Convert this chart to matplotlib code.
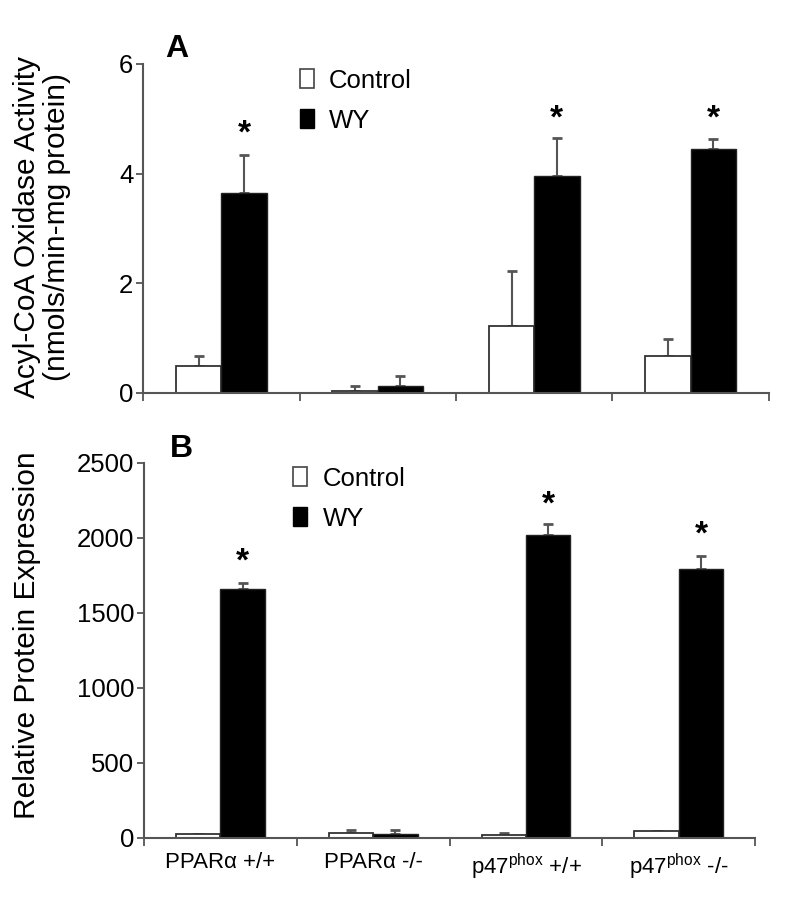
import matplotlib
matplotlib.use("Agg")
import matplotlib.pyplot as plt
from matplotlib.patches import Patch
import numpy as np

plt.rcParams['font.family'] = ['Liberation Sans', 'DejaVu Sans']
plt.rcParams['mathtext.fontset'] = 'custom'
plt.rcParams['mathtext.rm'] = 'Liberation Sans'
plt.rcParams['mathtext.it'] = 'Liberation Sans'

groups = ['PPAR\u03b1 +/+', 'PPAR\u03b1 -/-',
          r'p47$^{\mathrm{phox}}$ +/+', r'p47$^{\mathrm{phox}}$ -/-']

# panel A: acyl-CoA oxidase activity
acox_ctrl = [0.49, 0.04, 1.22, 0.68]
acox_ctrl_err = [0.18, 0.09, 1.01, 0.31]
acox_wy = [3.65, 0.13, 3.96, 4.45]
acox_wy_err = [0.69, 0.18, 0.69, 0.18]
acox_star = [4.72, None, 5.0, 5.0]

# panel B: relative protein expression
prot_ctrl = [25, 30, 20, 45]
prot_ctrl_err = [0, 20, 15, 0]
prot_wy = [1660, 25, 2020, 1793]
prot_wy_err = [40, 25, 70, 87]
prot_star = [1840, None, 2220, 2020]

edge = '#555555'
w = 0.29
x = np.arange(len(groups)) + 0.5

fig = plt.figure(figsize=(8, 8.99), dpi=100)
axA = fig.add_axes([0.179, 0.563, 0.782, 0.366])
axB = fig.add_axes([0.180, 0.068, 0.764, 0.417])


def draw(ax, ctrl, cerr, wy, werr, stars, ymax, yticks, leg_xy):
    ax.bar(x - w / 2, ctrl, w, color='white', edgecolor='#333333', linewidth=1.3, zorder=2)
    ax.bar(x + w / 2, wy, w, color='black', edgecolor='#222222', linewidth=1.0, zorder=2)
    ax.errorbar(x - w / 2, ctrl, yerr=[np.zeros(4), cerr], fmt='none', ecolor=edge,
                elinewidth=1.5, capsize=3.5, capthick=2, zorder=1)
    ax.errorbar(x + w / 2, wy, yerr=[np.zeros(4), werr], fmt='none', ecolor=edge,
                elinewidth=1.5, capsize=3.5, capthick=2, zorder=1)
    for xi, s in zip(x, stars):
        if s is not None:
            ax.text(xi + w / 2, s, '*', ha='center', va='center', fontsize=24,
                    fontweight='bold')
    ax.set_xlim(0, 4)
    ax.set_ylim(0, ymax)
    ax.set_yticks(yticks)
    ax.set_xticks(np.arange(5))
    ax.set_xticklabels([])
    ax.set_xticks(x, minor=True)
    ax.tick_params(axis='x', which='major', direction='out', length=6, width=1.3,
                   color=edge)
    ax.tick_params(axis='x', which='minor', length=0, labelsize=16, pad=10)
    ax.tick_params(axis='y', direction='out', length=5, width=1.3, color=edge,
                   labelsize=18.5, pad=2)
    for s in ['top', 'right']:
        ax.spines[s].set_visible(False)
    for s in ['left', 'bottom']:
        ax.spines[s].set_color(edge)
        ax.spines[s].set_linewidth(1.5)
    ax.spines['bottom'].set_zorder(3)
    handles = [Patch(facecolor='white', edgecolor='#444444', linewidth=1.2),
               Patch(facecolor='black', edgecolor='black')]
    ax.legend(handles, ['Control', 'WY'], loc='upper left', bbox_to_anchor=leg_xy,
              frameon=False, fontsize=18.5, handlelength=0.55, handleheight=0.75,
              handletextpad=0.6, labelspacing=0.62, borderaxespad=0, borderpad=0)


draw(axA, acox_ctrl, acox_ctrl_err, acox_wy, acox_wy_err, acox_star, 6, [0, 2, 4, 6],
     (0.25, 0.985))
draw(axB, prot_ctrl, prot_ctrl_err, prot_wy, prot_wy_err, prot_star, 2500,
     [0, 500, 1000, 1500, 2000, 2500], (0.244, 0.99))
axB.set_xticklabels(groups, minor=True)

fig.text(0.207, 0.937, 'A', fontsize=23, fontweight='bold')
fig.text(0.212, 0.492, 'B', fontsize=23, fontweight='bold')
fig.text(0.053, 0.747, 'Acyl-CoA Oxidase Activity\n(nmols/min-mg protein)', rotation=90,
         ha='center', va='center', fontsize=21.5, linespacing=1.1)
fig.text(0.034, 0.294, 'Relative Protein Expression', rotation=90,
         ha='center', va='center', fontsize=21.5)

fig.savefig('out.png', dpi=100)
